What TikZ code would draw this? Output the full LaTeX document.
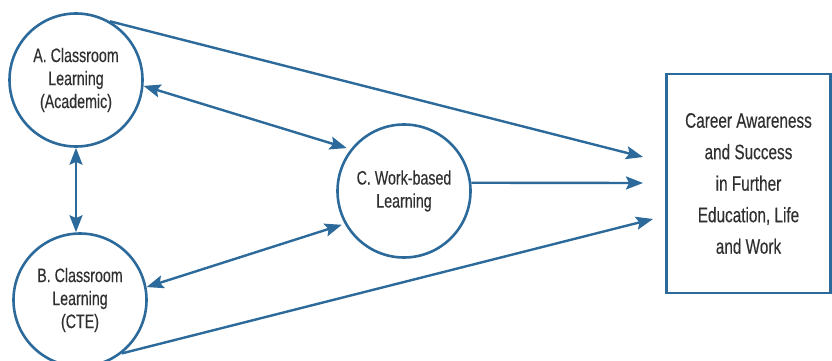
\documentclass[tikz,border=0pt]{standalone}
\usepackage{fontspec}
\setmainfont{Liberation Sans}[FakeStretch=0.73,FakeBold=0.3]
\usetikzlibrary{arrows.meta}
\definecolor{linkblue}{HTML}{2B6A9B}
\definecolor{textgray}{HTML}{303030}
\begin{document}
\begin{tikzpicture}[x=1pt,y=-1pt,>={Stealth[length=17pt,width=13pt,inset=3pt]},
  stage/.style={circle,draw=linkblue,line width=2.6pt,minimum size=133pt,inner sep=0pt,
    align=center,text=textgray,font=\fontsize{19.5}{23}\selectfont},
  goal/.style={rectangle,draw=linkblue,line width=2.6pt,minimum width=164pt,minimum height=219pt,
    align=center,text=textgray,font=\fontsize{21}{31.5}\selectfont},
  link/.style={draw=linkblue,line width=2.4pt,->},
  twoway/.style={draw=linkblue,line width=2.4pt,<->}]
  \useasboundingbox (0,0) rectangle (832,361);
  \node[stage] (A) at (76,80) {A. Classroom\\Learning\\(Academic)};
  \node[stage] (B) at (80,300) {B. Classroom\\Learning\\(CTE)};
  \node[stage] (C) at (404,191) {C. Work-based\\Learning};
  \node[goal] (goal) at (748.5,183.5) {Career Awareness\\and Success\\in Further\\Education, Life\\and Work};
  \coordinate (inA) at (643,157);
  \coordinate (inC) at (643,183);
  \coordinate (inB) at (653,219);
  \draw[link] (A.60) -- (inA);
  \draw[link] (C.7) -- (inC);
  \draw[link] (B.-52) -- (inB);
  \draw[twoway,shorten >=4pt] (A.-5) -- (C.142);
  \draw[twoway,shorten >=3pt] (B.11) -- (C.209);
  \draw[twoway] (A.south) -- (A.south |- B.north);
\end{tikzpicture}
\end{document}
